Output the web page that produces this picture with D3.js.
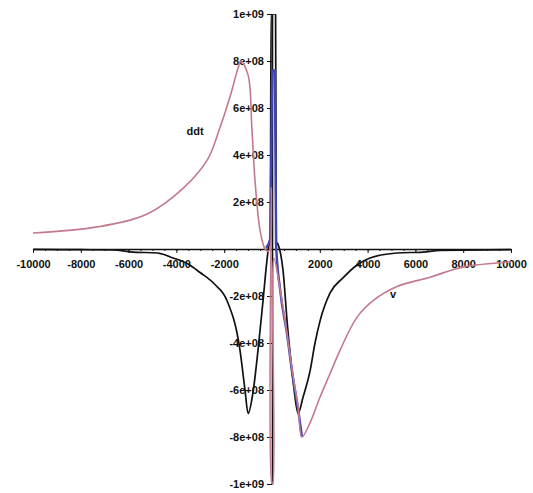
<!DOCTYPE html>
<head>
    <meta charset="utf-8">
    <script src="https://d3js.org/d3.v7.min.js"></script>
    <style>
        html, body { margin: 0; padding: 0; background: #fff; }
        svg { display: block; }
        .axis text { font: bold 11px "Liberation Sans", Arial, sans-serif; fill: #111; }
        .axis path, .axis line { stroke: #111; }
        .lbl { font: bold 11px "Liberation Sans", Arial, sans-serif; fill: #111; }
    </style>
</head>
<body>
<svg width="533" height="493"></svg>
<script>
    // tick values / labels
    var xTicks = [-10000, -8000, -6000, -4000, -2000, 2000, 4000, 6000, 8000, 10000];
    var xTickLabels = ["-10000", "-8000", "-6000", "-4000", "-2000",
                       "2000", "4000", "6000", "8000", "10000"];
    var yTicks = [1e9, 8e8, 6e8, 4e8, 2e8, -2e8, -4e8, -6e8, -8e8, -1e9];
    var yTickLabels = ["1e+09", "8e+08", "6e+08", "4e+08", "2e+08",
                       "-2e+08", "-4e+08", "-6e+08", "-8e+08", "-1e+09"];

    // black curve
    var blackV = [-10000, -8000, -6650, -5800, -4800, -4140, -3510, -3010, -2400, -1880,
                  -1340, -1130, -1000, -795, -585, -375, -210, -130, -70, -40,
                  150, 180, 250, 460, 650, 880, 1090, 1300, 1590, 1800,
                  2000, 2430, 2970, 3560, 4100, 5230, 6320, 7030, 10000];
    var blackVal = [-2e6, -3e6, -4e6, -1.3e7, -1.7e7, -3.8e7, -6.4e7, -1.0e8, -1.5e8, -2.2e8,
                    -4.3e8, -6.0e8, -7.0e8, -6.1e8, -4.3e8, -2.2e8, -4.7e7, 1.5e7, 3e7, 1e9,
                    1e9, 3e7, 2e7, -9e7, -3.3e8, -5.6e8, -7.0e8, -6.3e8, -5.2e8, -4.0e8,
                    -3.1e8, -1.87e8, -1.23e8, -6.8e7, -3.8e7, -1.7e7, -1.3e7, -6e6, -3e6];

    // pink curve
    var pinkV = [-10000, -7300, -5200, -3700, -2700, -2200, -1750, -1420, -1300, -1000,
                 -840, -710, -500, -290, -150, -70, -25, 0, 30, 80,
                 335, 625, 880, 1090, 1255, 1590, 2010, 2430, 2850, 3560,
                 4230, 5230, 6610, 7990, 10000];
    var pinkVal = [6.8e7, 9.4e7, 1.5e8, 2.6e8, 3.8e8, 5.1e8, 6.5e8, 7.7e8, 8.0e8, 7.4e8,
                   5.1e8, 2.9e8, 8e7, 0, -1e7, 1e7, 2.6e8, -1e9, -1e9, -4e7,
                   -1.7e8, -3.6e8, -5.4e8, -6.7e8, -8.0e8, -7.4e8, -6.3e8, -5.3e8, -4.3e8, -2.9e8,
                   -2.2e8, -1.6e8, -1.2e8, -7.7e7, -5.5e7];

    // blue curve (mostly hidden under the others)
    var blueV = [-250, -80, 20, 120, 170, 335, 625, 880, 1090, 1255];
    var blueVal = [5e6, 4e7, 7.6e8, 7.6e8, 2e7, -1.7e8, -3.6e8, -5.5e8, -6.8e8, -8.0e8];

    var svg = d3.select("svg");

    var x = d3.scaleLinear().domain([-10000, 10000]).range([33, 511]);
    var y = d3.scaleLinear().domain([-1e9, 1e9]).range([484, 14]);

    svg.append("defs").append("clipPath").attr("id", "clip")
        .append("rect")
        .attr("x", x(-10000)).attr("y", y(1e9))
        .attr("width", x(10000) - x(-10000)).attr("height", y(-1e9) - y(1e9));

    // x axis, minor ticks first
    svg.append("g")
        .attr("class", "axis")
        .attr("transform", "translate(0," + y(0) + ")")
        .call(d3.axisBottom(x).tickValues(d3.range(-10000, 10001, 500)).tickSize(2).tickFormat(""))
        .select(".domain").remove();

    var xa = svg.append("g")
        .attr("class", "axis")
        .attr("transform", "translate(0," + y(0) + ")")
        .call(d3.axisBottom(x).tickValues(xTicks).tickSize(4).tickPadding(7).tickSizeOuter(0)
            .tickFormat(function(d, i) { return xTickLabels[i]; }));
    xa.select(".domain").attr("stroke-width", 1.6);

    var ya = svg.append("g")
        .attr("class", "axis")
        .attr("transform", "translate(" + x(0) + ",0)")
        .call(d3.axisLeft(y).tickValues(yTicks).tickSize(5).tickPadding(3).tickSizeOuter(0)
            .tickFormat(function(d, i) { return yTickLabels[i]; }));
    ya.select(".domain").attr("stroke-width", 1.6);

    var lineStiff = d3.line()
        .x(function(d) { return x(d[0]); })
        .y(function(d) { return y(d[1]); })
        .curve(d3.curveMonotoneX);

    var lineSmooth = d3.line()
        .x(function(d) { return x(d[0]); })
        .y(function(d) { return y(d[1]); })
        .curve(d3.curveCatmullRom.alpha(0.5));

    var plot = svg.append("g").attr("clip-path", "url(#clip)");

    plot.append("path")
        .datum(d3.zip(blackV, blackVal))
        .attr("d", lineStiff)
        .style("fill", "none")
        .style("stroke", "#111")
        .style("stroke-width", 1.7);

    plot.append("path")
        .datum(d3.zip(blueV, blueVal))
        .attr("d", lineStiff)
        .style("fill", "none")
        .style("stroke", "#3f44b0")
        .style("stroke-width", 2.4);

    plot.append("path")
        .datum(d3.zip(pinkV, pinkVal))
        .attr("d", lineSmooth)
        .style("fill", "none")
        .style("stroke", "#c27a8c")
        .style("stroke-width", 1.6);

    svg.append("text").attr("class", "lbl")
        .attr("x", 195).attr("y", 135)
        .attr("text-anchor", "middle")
        .text("ddt");

    svg.append("text").attr("class", "lbl")
        .attr("x", 393).attr("y", 298)
        .attr("text-anchor", "middle")
        .text("v");
</script>
</body>
